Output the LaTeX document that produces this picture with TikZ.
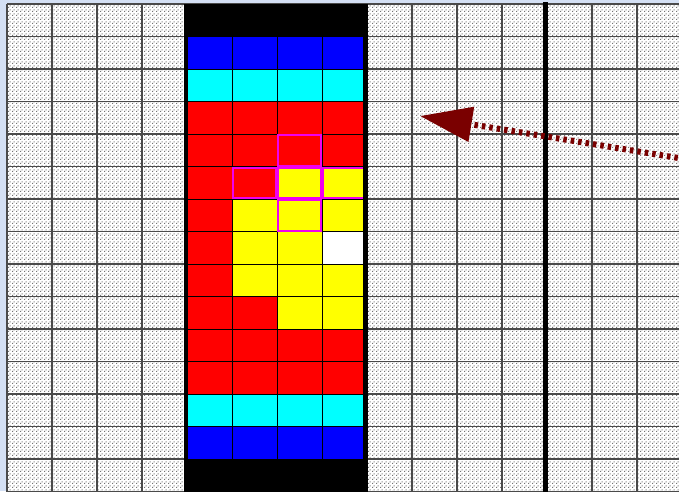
\documentclass[tikz,border=0pt]{standalone}
\usetikzlibrary{arrows.meta,patterns.meta}
\definecolor{bgblue}{HTML}{D4E0F4}
\definecolor{gridgray}{HTML}{4A4A4A}
\definecolor{cBlue}{HTML}{0000FF}
\definecolor{cCyan}{HTML}{00FFFF}
\definecolor{cRed}{HTML}{FF0000}
\definecolor{cYel}{HTML}{FFFF00}
\definecolor{cWhite}{HTML}{FFFFFF}
\definecolor{cMag}{HTML}{F000F0}
\definecolor{arrowred}{HTML}{7A0000}
\pgfdeclarepattern{
  name=halftone, type=uncolored,
  bottom left={\pgfpoint{0pt}{0pt}},
  top right={\pgfpoint{4pt}{4pt}},
  tile size={\pgfpoint{4pt}{4pt}},
  code={
    \pgfpathrectangle{\pgfpoint{0pt}{0pt}}{\pgfpoint{1.3pt}{1.3pt}}
    \pgfpathrectangle{\pgfpoint{2pt}{2pt}}{\pgfpoint{1.3pt}{1.3pt}}
    \pgfusepath{fill}
  }
}
\tikzset{
  gridline/.style={draw=gridgray, line width=1.4pt},
  cellbox/.style={draw=black, line width=0.9pt},
  hilite/.style={draw=cMag, line width=2pt},
  sidebar/.style={fill=black},
  arrowline/.style={draw=arrowred, line width=6pt, dash pattern=on 3.5pt off 4pt,
    -{Triangle[length=52pt,width=34pt]}},
}
\begin{document}
\begin{tikzpicture}[x=1pt,y=-1pt]
\useasboundingbox (0,0) rectangle (679,491);
\clip (0,0) rectangle (679,491);
% background
\fill[bgblue] (0,0) rectangle (679,491);
\fill[white] (7,4) rectangle (700,500);
\fill[pattern=halftone, pattern color=black!55] (7,4) rectangle (700,500);
% grid
\foreach \i in {0,...,15} {
  \draw[gridline] (7+45*\i,4) -- (7+45*\i,500);
}
\foreach \j in {0,...,15} {
  \draw[gridline] (7,4+32.5*\j) -- (700,4+32.5*\j);
}
% coloured cells
\foreach \r/\a/\b/\c/\d in {
  1/cBlue/cBlue/cBlue/cBlue,
  2/cCyan/cCyan/cCyan/cCyan,
  3/cRed/cRed/cRed/cRed,
  4/cRed/cRed/cRed/cRed,
  5/cRed/cRed/cYel/cYel,
  6/cRed/cYel/cYel/cYel,
  7/cRed/cYel/cYel/cWhite,
  8/cRed/cYel/cYel/cYel,
  9/cRed/cRed/cYel/cYel,
  10/cRed/cRed/cRed/cRed,
  11/cRed/cRed/cRed/cRed,
  12/cCyan/cCyan/cCyan/cCyan,
  13/cBlue/cBlue/cBlue/cBlue} {
  \filldraw[cellbox, fill=\a] (187,4+32.5*\r) rectangle ++(45,32.5);
  \filldraw[cellbox, fill=\b] (232,4+32.5*\r) rectangle ++(45,32.5);
  \filldraw[cellbox, fill=\c] (277,4+32.5*\r) rectangle ++(45,32.5);
  \filldraw[cellbox, fill=\d] (322,4+32.5*\r) rectangle ++(45,32.5);
}
% highlighted cells (cross)
\foreach \c/\r in {2/4, 1/5, 2/5, 3/5, 2/6} {
  \draw[hilite] (187+45*\c+1,4+32.5*\r+1) rectangle ++(43,30.5);
}
% black bars of the strip
\fill[sidebar] (184,4) rectangle (368,36.5);
\fill[sidebar] (184,459) rectangle (368,500);
\fill[sidebar] (184,4) rectangle (188,500);
\fill[sidebar] (363,4) rectangle (368,500);
% third thick line
\fill[sidebar] (543,2) rectangle (548,500);
% arrow
\coordinate (tail) at (700,161.5);
\coordinate (tip) at (420,116);
\draw[arrowline] (tail) -- (tip);
\end{tikzpicture}
\end{document}
